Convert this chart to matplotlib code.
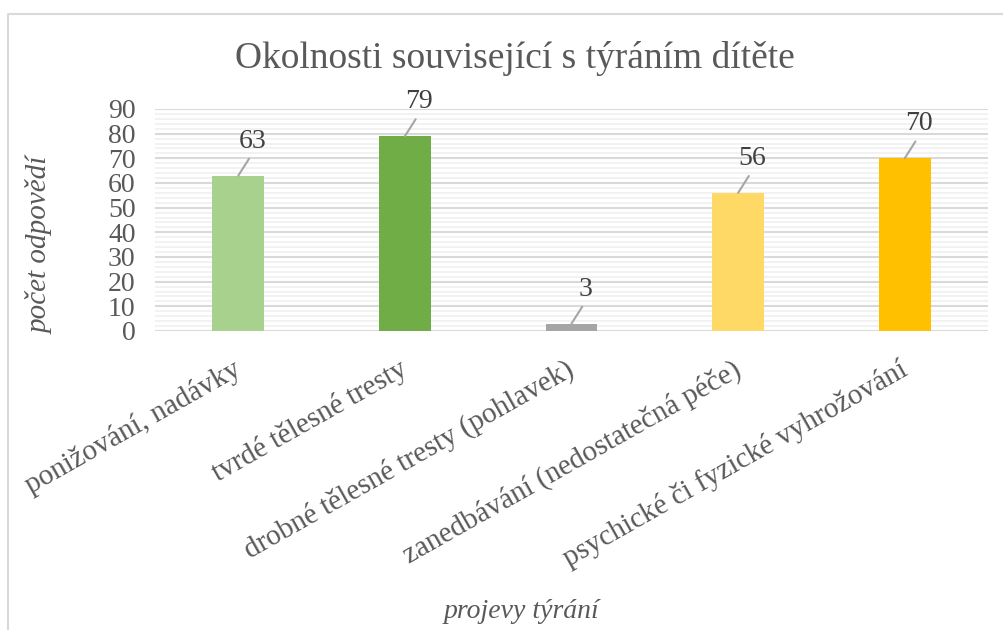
import matplotlib.pyplot as plt
import matplotlib.transforms as mtransforms
from matplotlib.lines import Line2D
from matplotlib.ticker import MultipleLocator

plt.rcParams['font.family'] = ['Liberation Serif', 'DejaVu Serif']

# data
categories = ['ponižování, nadávky', 'tvrdé tělesné tresty', 'drobné tělesné tresty (pohlavek)',
              'zanedbávání (nedostatečná péče)', 'psychické či fyzické vyhrožování']
values = [63, 79, 3, 56, 70]
colors = ['#A9D18E', '#70AD47', '#A5A5A5', '#FFD966', '#FFC000']

fig = plt.figure(figsize=(10.04, 6.3), dpi=100)
ax = fig.add_axes([155/1004, 1-331/630, (988-155)/1004, (331-109)/630])

x = range(len(categories))
ax.bar(x, values, width=0.31, color=colors, zorder=3)

ax.set_xlim(-0.5, len(categories)-0.5)
ax.set_ylim(0, 90)
ax.yaxis.set_major_locator(MultipleLocator(10))
ax.yaxis.set_minor_locator(MultipleLocator(2))
ax.grid(which='major', axis='y', color='#D9D9D9', lw=1.5, zorder=1)
ax.grid(which='minor', axis='y', color='#F0F0F0', lw=1.2, zorder=0)
for s in ax.spines.values():
    s.set_visible(False)
ax.tick_params(which='both', length=0)
ax.tick_params(axis='y', labelsize=20, labelcolor='#595959', pad=14)

ax.set_xticks(list(x))
ax.set_xticklabels(categories, rotation=29.5, ha='right', va='top', rotation_mode='anchor',
                   fontsize=21, color='#595959')
off = mtransforms.ScaledTranslation(-6/100, -20/100, fig.dpi_scale_trans)
for lbl in ax.get_xticklabels():
    lbl.set_transform(lbl.get_transform() + off)

for i, v in enumerate(values):
    ax.annotate(str(v), xy=(i, v), xytext=(14, 22), textcoords='offset pixels',
                ha='center', va='bottom', fontsize=20, color='#404040', zorder=4,
                arrowprops=dict(arrowstyle='-', color='#A6A6A6', lw=1.5,
                                shrinkA=2, shrinkB=0, relpos=(0.5, 0)))

fig.text(515/1004, 1-58/630, 'Okolnosti související s týráním dítěte', ha='center', va='center',
         fontsize=27, color='#595959')
fig.text(40/1004, 1-245/630, 'počet odpovědí', rotation=90, ha='center', va='center',
         fontsize=21, style='italic', color='#595959')
fig.text(522/1004, 1-612/630, 'projevy týrání', ha='center', va='center',
         fontsize=20, style='italic', color='#595959')

# chart frame
fig.add_artist(Line2D([8/1004, 8/1004, 1.0], [0.0, 1-14/630, 1-14/630],
                      transform=fig.transFigure, color='#D9D9D9', lw=1.5))

fig.savefig('out.png', dpi=100)
